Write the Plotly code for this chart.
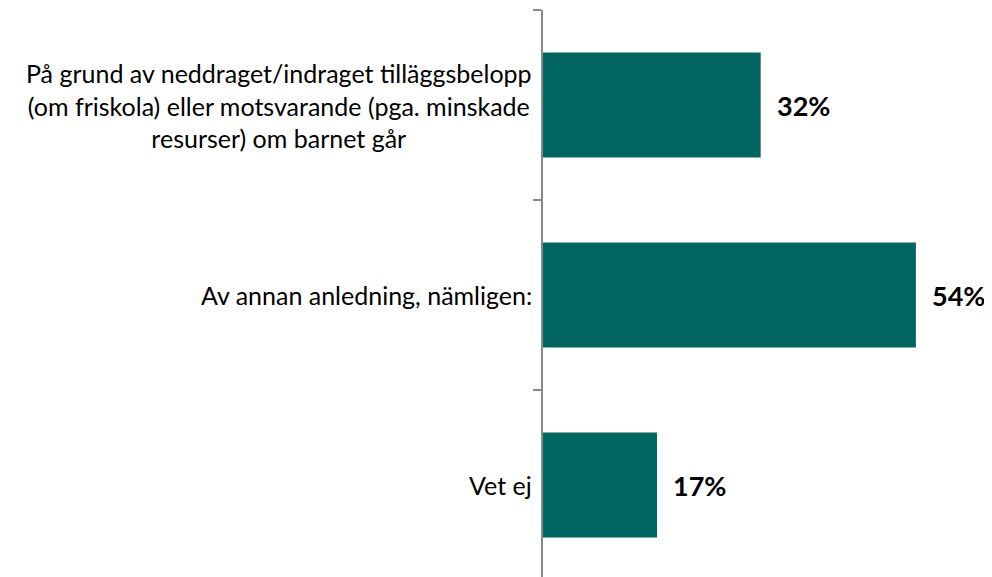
import plotly.graph_objects as go

categories = [
    "På grund av neddraget/indraget tilläggsbelopp<br>(om friskola) eller motsvarande (pga. minskade<br>resurser) om barnet går",
    "Av annan anledning, nämligen:",
    "Vet ej",
]
values = [31.7, 54.3, 16.6]
labels = ["32%", "54%", "17%"]

BAR = "#006461"
AXIS = "#898989"
FONT = "Lato, 'Open Sans', sans-serif"

fig = go.Figure()
fig.add_trace(go.Bar(
    x=values, y=list(range(len(categories))), orientation="h",
    marker=dict(color=BAR, line=dict(width=0)),
    width=0.553, hoverinfo="skip", showlegend=False,
))

for i, (cat, v, lab) in enumerate(zip(categories, values, labels)):
    fig.add_annotation(x=0, xref="paper", y=i, yref="y", text=cat,
                       xanchor="right", yanchor="middle", align="center",
                       xshift=-9, showarrow=False,
                       font=dict(family=FONT, size=25, color="#000000"))
    fig.add_annotation(x=v, xref="x", y=i, yref="y", text="<b>" + lab + "</b>",
                       xanchor="left", yanchor="middle", xshift=14,
                       showarrow=False,
                       font=dict(family=FONT, size=27, color="#000000"))

fig.update_layout(
    width=984, height=569,
    margin=dict(l=535, r=37, t=2, b=0),
    plot_bgcolor="white", paper_bgcolor="white",
    bargap=0.447,
    xaxis=dict(range=[0, 60], visible=False, fixedrange=True),
    yaxis=dict(
        range=[2.484, -0.5],
        tickmode="array", tickvals=[-0.5, 0.5, 1.5, 2.5], ticktext=["", "", "", ""],
        showticklabels=False,
        ticks="outside", ticklen=8, tickwidth=2, tickcolor=AXIS,
        showline=True, linecolor=AXIS, linewidth=2,
        showgrid=False, zeroline=False, fixedrange=True,
    ),
)

fig.write_html("out.html")
